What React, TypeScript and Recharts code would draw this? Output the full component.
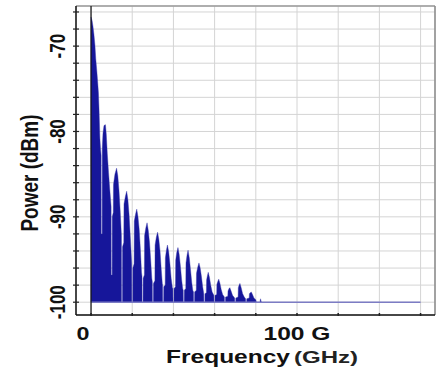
import React from "react";
import {
  ComposedChart,
  Area,
  Line,
  XAxis,
  YAxis,
  CartesianGrid,
  ReferenceLine,
  Label,
} from "recharts";

// Spectrum: [frequency GHz, power dBm]
const spectrumPoints: [number, number][] = [
  [0, -100], [0, -66.6], [0.5, -67.0], [0.9, -67.6], [1.4, -68.6], [1.9, -69.9], [2.3, -71.5],
  [2.7, -72.6], [3.1, -73.8], [3.6, -75.5], [3.9, -77.5], [4.3, -80.8], [4.6, -82.0], [4.9, -82.8],
  [4.95, -92.0], [5.4, -92.0],
  [5.45, -82.0], [5.8, -80.2], [6.3, -79.3], [7.0, -79.2], [7.4, -80.3], [7.9, -82.6], [8.5, -84.8],
  [9.1, -86.8], [9.75, -88.8],
  [9.8, -96.8], [10.25, -96.8],
  [10.3, -90.0], [10.8, -89.5], [10.9, -86.2], [11.6, -85.0], [12.4, -84.3], [13.0, -85.2],
  [13.6, -87.0], [14.2, -89.5], [14.75, -92.2],
  [14.8, -100], [15.25, -100],
  [15.3, -93.5], [15.9, -93.0], [16.0, -88.5], [16.7, -87.6], [17.3, -87.0], [17.9, -88.0],
  [18.5, -89.8], [19.1, -92.5], [19.75, -95.5],
  [19.8, -100], [20.25, -100],
  [20.3, -96.0], [20.9, -95.5], [21.0, -90.5], [21.6, -89.7], [22.2, -89.1], [22.8, -90.0],
  [23.4, -91.5], [24.0, -94.0], [24.5, -96.5], [24.75, -97.0],
  [24.8, -100], [25.25, -100],
  [25.3, -97.2], [25.9, -96.8], [26.0, -92.2], [26.6, -91.3], [27.2, -90.7], [27.8, -91.6],
  [28.4, -93.0], [29.0, -95.2], [29.5, -97.2], [29.75, -97.6],
  [29.8, -100], [30.25, -100],
  [30.3, -97.8], [31.0, -97.5], [31.1, -93.3], [31.7, -92.4], [32.3, -91.8], [32.9, -92.6],
  [33.5, -94.0], [34.1, -96.2], [34.6, -97.8], [34.75, -98.0],
  [34.8, -100], [35.25, -100],
  [35.3, -98.2], [36.0, -98.0], [36.1, -94.8], [36.6, -93.9], [37.1, -93.3], [37.7, -94.1],
  [38.3, -95.5], [38.9, -97.2], [39.5, -98.3], [39.75, -98.4],
  [39.8, -100], [40.25, -100],
  [40.3, -98.4], [41.0, -98.2], [41.1, -95.1], [41.6, -94.2], [42.2, -93.6], [42.8, -94.4],
  [43.4, -95.8], [44.0, -97.4], [44.5, -98.4], [44.75, -98.6],
  [44.8, -100], [45.25, -100],
  [45.3, -98.6], [46.0, -98.4], [46.1, -95.4], [46.6, -94.5], [47.1, -93.9], [47.7, -94.8],
  [48.3, -96.2], [48.9, -97.7], [49.4, -98.6], [49.75, -98.8],
  [49.8, -100], [50.25, -100],
  [50.3, -98.8], [51.1, -98.6], [51.2, -96.6], [51.8, -95.9], [52.4, -95.4], [53.0, -96.0],
  [53.6, -97.0], [54.2, -98.2], [54.75, -99.0],
  [54.8, -100], [55.25, -100],
  [55.3, -99.0], [56.0, -98.9], [56.1, -97.4], [56.5, -96.9], [56.9, -96.5], [57.5, -97.1],
  [58.1, -98.0], [58.8, -98.8], [59.65, -99.2],
  [59.7, -100], [60.15, -100],
  [60.2, -99.2], [61.0, -99.1], [61.1, -97.9], [61.5, -97.6], [62.0, -97.3], [62.6, -97.8],
  [63.2, -98.5], [63.9, -99.1], [64.75, -99.4],
  [64.8, -100], [65.25, -100],
  [65.3, -99.4], [66.4, -99.3], [66.5, -98.7], [67.0, -98.4], [67.4, -98.3], [68.0, -98.7],
  [68.7, -99.2], [69.75, -99.5],
  [69.8, -100], [70.25, -100],
  [70.3, -99.5], [71.4, -99.4], [71.5, -98.3], [71.9, -98.0], [72.3, -97.8], [72.9, -98.3],
  [73.6, -99.0], [74.4, -99.4], [75.05, -99.6],
  [75.1, -100], [75.55, -100],
  [75.6, -99.6], [76.8, -99.5], [76.9, -99.0], [77.3, -98.9], [77.8, -98.8], [78.4, -99.1],
  [79.1, -99.5], [80.0, -99.7], [80.3, -100],
  [82.0, -100], [82.3, -99.6], [82.7, -100], [83.0, -100],
];

const floorPoints: [number, number][] = [
  [0, -100],
  [160, -100],
];

const xTicks = [0, 20, 40, 60, 80, 100, 120, 140, 160];
const xTickLabels: Record<number, string> = { 0: "0", 100: "100 G" };
const yTicks = [-100, -98, -96, -94, -92, -90, -88, -86, -84, -82, -80, -78, -76, -74, -72, -70, -68, -66];
const yTickLabels: Record<number, string> = { [-100]: "-100", [-90]: "-90", [-80]: "-80", [-70]: "-70" };

const X_DOMAIN: [number, number] = [-7.3, 167];
const Y_DOMAIN: [number, number] = [-101.5, -65.3];

const spectrumData = spectrumPoints.map(([f, p]) => ({ f, p }));
const floorData = floorPoints.map(([f, p]) => ({ f, p }));

const FONT = "'Liberation Sans', Arial, sans-serif";

const XTick = (props: any) => {
  const { x, y, payload } = props;
  const v = payload.value as number;
  const label = xTickLabels[v];
  return (
    <g>
      <line x1={x} x2={x} y1={y - 2} y2={y + 1} stroke="#222" strokeWidth={1.5} />
      {label !== undefined && (
        <text
          x={v === 0 ? x - 8 : x}
          y={y + 25}
          textAnchor="middle"
          fontFamily={FONT}
          fontWeight="bold"
          fontSize={19}
          fill="#111"
          textLength={v === 0 ? 13 : 67}
          lengthAdjust="spacingAndGlyphs"
        >
          {label}
        </text>
      )}
    </g>
  );
};

const YTick = (props: any) => {
  const { x, y, payload } = props;
  const v = payload.value as number;
  const label = yTickLabels[v];
  return (
    <g>
      <line x1={x - 3} x2={x + 3} y1={y} y2={y} stroke="#222" strokeWidth={1.2} />
      {label !== undefined && (
        <text
          transform={`translate(${x - 19},${y}) scale(1.25,1) rotate(-90)`}
          x={0}
          y={0}
          dy="0.36em"
          textAnchor="middle"
          fontFamily={FONT}
          fontWeight="bold"
          fontSize={17}
          fill="#111"
        >
          {label}
        </text>
      )}
    </g>
  );
};

const XTitle = (props: any) => {
  const vb = props.viewBox || { x: 76, y: 315, width: 359 };
  return (
    <g>
      <text
        x={vb.x + 90}
        y={vb.y + 48}
        fontFamily={FONT}
        fontWeight="bold"
        fontSize={18}
        fill="#111"
        textLength={124}
        lengthAdjust="spacingAndGlyphs"
      >
        Frequency
      </text>
      <text
        x={vb.x + 218}
        y={vb.y + 48}
        fontFamily={FONT}
        fontWeight="bold"
        fontSize={17}
        fill="#222"
        textLength={64}
        lengthAdjust="spacingAndGlyphs"
      >
        (GHz)
      </text>
    </g>
  );
};

const YTitle = (props: any) => {
  const vb = props.viewBox || { x: 0, y: 6, width: 76, height: 309 };
  const cx = vb.x + 29;
  const cy = vb.y + 167;
  return (
    <text
      transform={`translate(${cx},${cy}) scale(1.3,1) rotate(-90)`}
      x={0}
      y={0}
      dy="0.36em"
      textAnchor="middle"
      fontFamily={FONT}
      fontWeight="bold"
      fontSize={19}
      fill="#111"
    >
      Power (dBm)
    </text>
  );
};

export default function App() {
  return (
    <div style={{ position: "absolute", left: 0, top: 0, width: 444, height: 376, background: "#fff" }}>
      <ComposedChart
        width={444}
        height={376}
        margin={{ top: 6, right: 9, left: 0, bottom: 0 }}
      >
        <CartesianGrid stroke="#d4d4d4" strokeWidth={1} />
        <XAxis
          type="number"
          dataKey="f"
          domain={X_DOMAIN}
          ticks={xTicks}
          allowDataOverflow
          height={61}
          tickSize={0}
          tickMargin={0}
          tickLine={false}
          axisLine={{ stroke: "#111", strokeWidth: 1.5 }}
          tick={<XTick />}
          interval={0}
        >
          <Label content={<XTitle />} />
        </XAxis>
        <YAxis
          type="number"
          domain={Y_DOMAIN}
          ticks={yTicks}
          allowDataOverflow
          width={76}
          tickSize={0}
          tickMargin={0}
          tickLine={false}
          axisLine={{ stroke: "#111", strokeWidth: 1.5 }}
          tick={<YTick />}
          interval={0}
        >
          <Label content={<YTitle />} />
        </YAxis>
        <ReferenceLine y={Y_DOMAIN[1]} stroke="#9a9a9a" strokeWidth={1.5} />
        <ReferenceLine x={X_DOMAIN[1]} stroke="#8a8a8a" strokeWidth={1.5} />
        <Line
          data={floorData}
          dataKey="p"
          type="linear"
          stroke="#7c7cc4"
          strokeWidth={1.6}
          dot={false}
          isAnimationActive={false}
        />
        <Area
          data={spectrumData}
          dataKey="p"
          type="linear"
          baseValue={-100}
          fill="#16169a"
          fillOpacity={1}
          stroke="#3434aa"
          strokeWidth={0.4}
          isAnimationActive={false}
        />
        <ReferenceLine x={0} stroke="#111" strokeWidth={1.2} />
      </ComposedChart>
    </div>
  );
}
